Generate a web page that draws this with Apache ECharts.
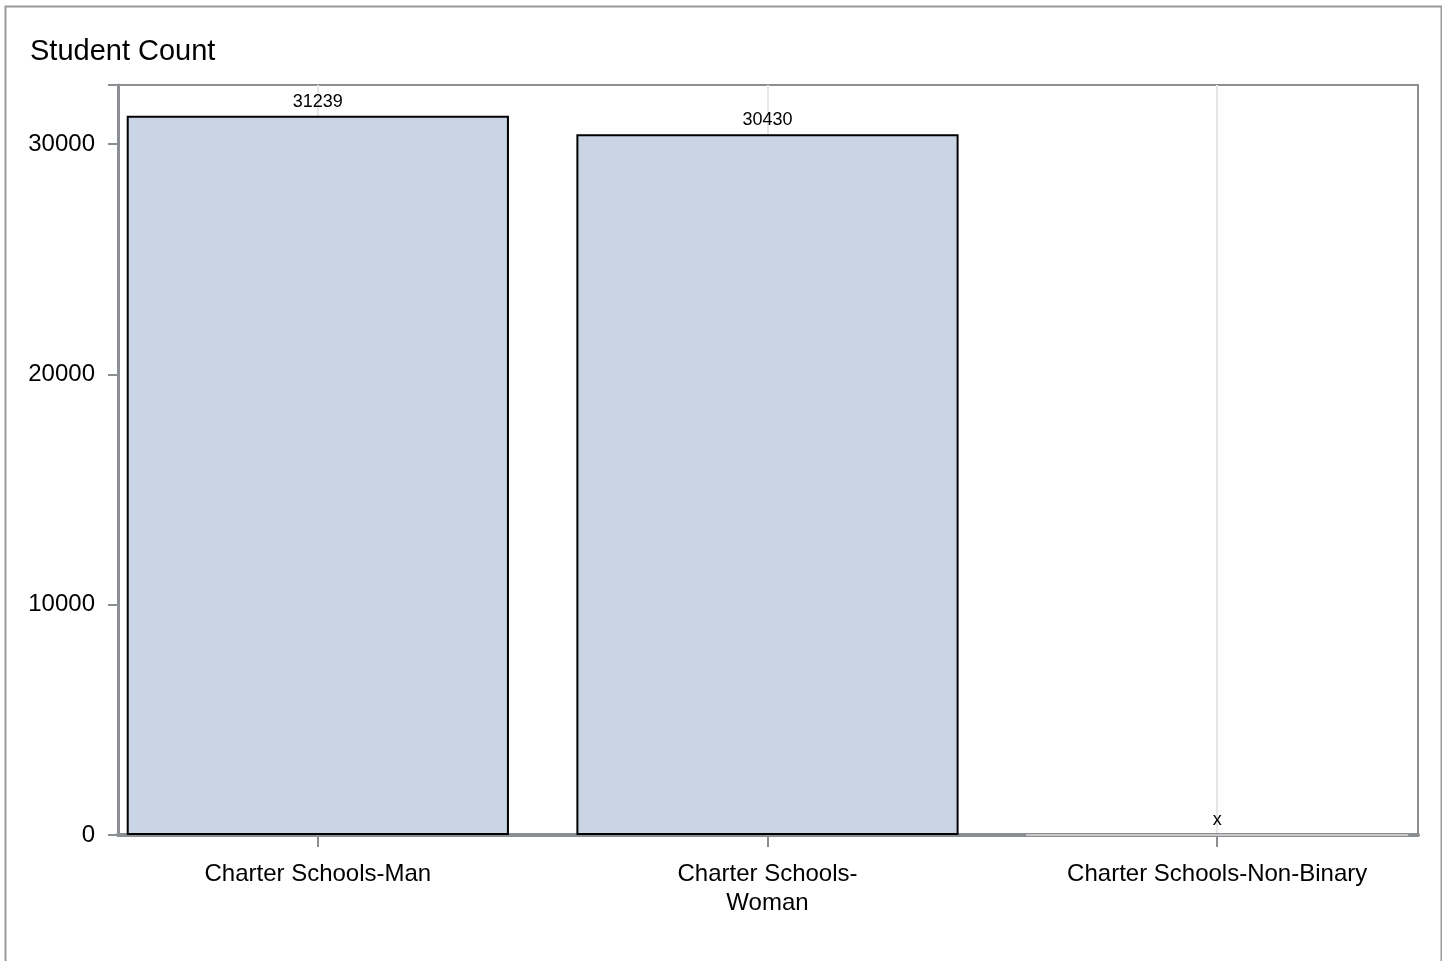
<!DOCTYPE html>
<html>
<head>
<meta charset="utf-8">
<script src="https://cdn.jsdelivr.net/npm/echarts@6/dist/echarts.min.js"></script>
<style>
html,body{margin:0;padding:0;background:#fff;}
#chart{width:1442px;height:961px;}
</style>
</head>
<body>
<div id="chart"></div>
<script>
const categories = ['Charter Schools-Man', 'Charter Schools-Woman', 'Charter Schools-Non-Binary'];
const tickLabels = ['Charter Schools-Man', 'Charter Schools-\nWoman', 'Charter Schools-Non-Binary'];
const values = [31239, 30430, 0];
const valueLabels = ['31239', '30430', 'x'];
const yTicks = [0, 10000, 20000, 30000];
const yMax = 32570;

const FONT = '"Liberation Sans", Arial, sans-serif';
const frameColor = '#8b8e92';

const chart = echarts.init(document.getElementById('chart'), null, {renderer: 'canvas'});
chart.setOption({
  backgroundColor: '#fff',
  animation: false,
  title: {
    text: 'Student Count',
    left: 25, top: 32,
    textStyle: {fontFamily: FONT, fontSize: 29, fontWeight: 'normal', color: '#000'}
  },
  graphic: [{
    type: 'rect', left: 3, top: 4, silent: true,
    shape: {width: 1436, height: 1000},
    style: {fill: null, stroke: '#999', lineWidth: 2}
  }],
  grid: [
    {left: 93, right: 0, top: 85, bottom: 126, containLabel: false},
    {left: 118, right: 24, top: 85, bottom: 126, show: true, borderColor: frameColor, borderWidth: 2, backgroundColor: 'transparent', containLabel: false}
  ],
  xAxis: [
    {
      type: 'category', gridIndex: 0, data: categories,
      axisLine: {show: false},
      axisTick: {show: true, alignWithLabel: true, length: 12, lineStyle: {color: frameColor, width: 2}},
      axisLabel: {
        margin: 25, fontFamily: FONT, fontSize: 24, color: '#000', lineHeight: 29,
        formatter: (v, i) => tickLabels[i]
      },
      splitLine: {show: true, alignWithLabel: true, lineStyle: {color: '#e6e6e6', width: 2}}
    },
    {
      type: 'value', gridIndex: 1, min: 0, max: 1,
      axisLine: {show: true, lineStyle: {color: frameColor, width: 4}},
      axisTick: {show: false}, axisLabel: {show: false}, splitLine: {show: false}
    }
  ],
  yAxis: [
    {type: 'value', gridIndex: 0, min: 0, max: yMax, show: false, splitLine: {show: false}},
    {
      type: 'value', gridIndex: 1, min: 0, max: yMax, interval: 10000,
      axisLine: {show: true, lineStyle: {color: frameColor, width: 3}},
      axisTick: {show: true, length: 10, lineStyle: {color: frameColor, width: 2}},
      axisLabel: {
        margin: 23, fontFamily: FONT, fontSize: 24, color: '#000',
        formatter: v => (yTicks.indexOf(v) >= 0 ? String(v) : '')
      },
      splitLine: {show: false}
    }
  ],
  series: [{
    type: 'bar', xAxisIndex: 0, yAxisIndex: 0,
    data: values.map(v => v === 0
      ? {value: v, itemStyle: {borderColor: '#c8c8c8', borderWidth: 2}}
      : v),
    barWidth: '85%',
    itemStyle: {color: '#c9d5e5', borderColor: '#000', borderWidth: 2},
    label: {
      show: true, position: 'top', distance: 5,
      fontFamily: FONT, fontSize: 18, color: '#000',
      formatter: p => valueLabels[p.dataIndex]
    }
  }]
});
</script>
</body>
</html>
